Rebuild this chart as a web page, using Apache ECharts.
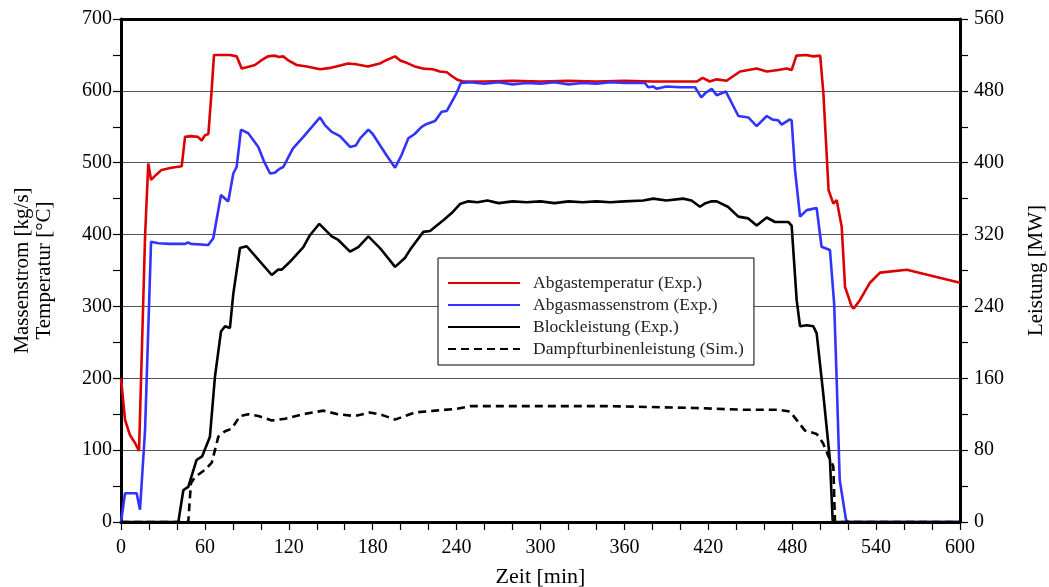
<!DOCTYPE html>
<html>
<head>
<meta charset="utf-8">
<script src="https://cdn.jsdelivr.net/npm/echarts@6/dist/echarts.min.js"></script>
<style>
  html, body { margin: 0; padding: 0; background: #fff; overflow: hidden; }
  #chart { width: 1049px; height: 587px; }
</style>
</head>
<body>
<div id="chart"></div>
<script>
// Abgastemperatur (Exp.) in °C over time in min
const tempTime = [0, 2.9, 6.4, 10, 12.9, 17.2, 19.5, 21.5, 25, 29, 36, 43.4, 45.8, 50, 55, 57.7, 60, 62.5, 64.8, 66.5, 72, 78, 82.7, 86.3, 90, 95.8, 100, 105, 110, 113, 116, 120, 125.6, 133, 142.3, 150, 154, 162.3, 168, 176.6, 185, 190, 196, 200, 204.3, 210, 216, 223, 228, 233, 237, 241, 245, 260, 280, 300, 320, 340, 360, 380, 400, 411.7, 416, 421, 426, 433, 442.7, 454.6, 461.8, 470, 476, 479.6, 483, 490, 495, 500, 502.3, 506, 509.4, 511.8, 515.4, 517.8, 522.5, 524, 528.5, 535.6, 542.8, 562, 600];
const tempValues = [200, 142, 121, 110, 99, 397, 499, 476, 483, 490, 493, 495, 536, 537, 536, 531, 538, 540, 600, 650, 650, 650, 648, 631, 633, 636, 642, 648, 649, 647, 648, 642, 636, 634, 630, 632, 634, 638, 637, 634, 638, 643, 648, 642, 639, 634, 631, 630, 627, 626, 620, 615, 613, 613, 614, 613, 614, 613, 614, 613, 613, 613, 618, 613, 616, 614, 627, 631, 627, 629, 631, 629, 649, 650, 648, 649, 597, 462, 443, 448, 411, 327, 300, 297, 309, 333, 347, 351, 333];

// Abgasmassenstrom (Exp.) in kg/s
const flowTime = [0, 2.9, 11.2, 13.6, 17.2, 21.5, 26.7, 35, 45.8, 48, 50, 62.4, 66, 71.5, 76.7, 80.3, 82.7, 85.8, 91, 98.2, 102, 106.6, 110, 113, 116, 123, 130.4, 137, 142.3, 146, 150.7, 156.6, 163.8, 168, 171, 176.9, 180, 185, 190, 196, 200.7, 205.5, 210, 215, 218.6, 224.6, 229.3, 233, 240, 243, 250, 260, 270, 280, 290, 300, 310, 320, 330, 340, 350, 360, 370, 374.7, 377, 380.7, 383, 390, 400, 410.5, 415, 418, 422.4, 426, 432.6, 441.5, 448.6, 454.6, 461.8, 466, 470, 472.5, 478, 479.6, 482, 485.6, 490.4, 497.5, 501, 507, 510, 511.8, 514, 518.5, 520, 600];
const flowValues = [0, 40, 40, 17, 128, 390, 388, 387, 387, 389, 387, 385.5, 395, 455, 446, 485, 494, 546, 541, 522, 503, 485, 486, 491, 494, 520, 536, 551, 563, 552, 543, 537, 522, 524, 534, 546, 540, 525, 510, 493, 511, 534, 540, 550, 554, 558, 571, 572, 597, 611, 612, 610, 612, 609, 611, 610, 612, 609, 611, 610, 612, 611, 611, 611, 605, 606, 603, 606, 605, 605, 591, 597, 603, 594, 599, 565, 563, 551, 565, 560, 559, 553, 560, 559, 490, 425, 434, 437, 383, 378.5, 304, 198, 58, 3, 0, 0];

// Blockleistung (Exp.) in MW
const blockTime = [0, 41, 44.6, 48.1, 54, 58, 63.6, 67.2, 71.5, 74.4, 77.9, 80.3, 85.1, 89.9, 98.2, 107.8, 112.5, 115, 121, 130.4, 135, 141.8, 150.7, 155.4, 163.8, 169.7, 176.9, 185.2, 196, 203, 206.7, 216.2, 221, 230.5, 236.5, 242.4, 248.4, 255, 262, 270, 280, 290, 300, 310, 320, 330, 340, 350, 360, 373.5, 380.7, 390, 402, 408, 414, 418, 422.4, 426, 434, 441.5, 448.6, 454.6, 461.8, 467.7, 477.2, 479.6, 483.2, 485.6, 490.4, 495.1, 497.5, 502.2, 507, 509, 600];
const blockValues = [0, 0, 35.6, 39, 69, 73, 95, 162, 212, 218, 216, 254, 305, 307, 292, 275, 281, 281, 290, 306, 319, 332, 318, 314, 301, 306, 318, 305, 284, 294, 303, 323, 324, 336, 344, 354, 357, 356, 358, 355, 357, 356, 357, 355, 357, 356, 357, 356, 357, 358, 360, 358, 360, 358, 351, 355, 357, 357, 351, 340, 338, 330, 339, 334, 334, 330, 247, 218, 219, 218, 210, 143, 69, 0, 0];

// Dampfturbinenleistung (Sim.) in MW
const turbineTime = [0, 48.1, 50, 52.9, 60, 64.9, 69.6, 74.4, 79.2, 85.1, 91, 98.2, 107.8, 117.3, 130, 144.7, 155, 167.3, 178, 187, 196, 210, 225, 240, 250, 300, 350, 378, 410, 444, 470, 478.4, 483, 489, 497.5, 502, 506, 509.4, 510.6, 600];
const turbineValues = [0, 0, 43, 50, 58, 66, 95, 101, 104, 118, 120, 118, 113, 115, 120, 124, 120, 118, 122, 119, 114, 122, 124, 126, 129, 129, 129, 128, 127, 125, 125, 123, 114, 102, 98, 88, 73, 62, 0, 0];

const seriesNames = ['Abgastemperatur (Exp.)', 'Abgasmassenstrom (Exp.)', 'Blockleistung (Exp.)', 'Dampfturbinenleistung (Sim.)'];
const xTicks = { min: 0, max: 600, step: 60 };
const leftTicks = { min: 0, max: 700, step: 100 };
const rightTicks = { min: 0, max: 560, step: 80 };

const FONT = '"Liberation Serif", "DejaVu Serif", serif';

function zip(ts, vs) {
  return ts.map((t, i) => [t, vs[i]]);
}

const chart = echarts.init(document.getElementById('chart'), null, { renderer: 'canvas' });

const tickLine = { color: '#000', width: 1.2 };
const labelStyle = { fontFamily: FONT, fontSize: 20, color: '#000' };

function lineSeries(name, data, color, axis, type) {
  return {
    name: name,
    type: 'line',
    yAxisIndex: axis,
    data: data,
    showSymbol: false,
    symbol: 'none',
    smooth: false,
    lineStyle: { color: color, width: 2.6, type: type || 'solid' },
    itemStyle: { color: color },
    emphasis: { disabled: true }
  };
}

chart.setOption({
  animation: false,
  backgroundColor: '#fff',
  grid: { left: 121, right: 89, top: 19, bottom: 65, containLabel: false, outerBoundsMode: 'none' },
  legend: {
    orient: 'vertical',
    left: 438,
    top: 258,
    data: seriesNames,
    itemWidth: 72,
    itemHeight: 14,
    itemGap: 4,
    padding: [16, 10, 7, 9],
    backgroundColor: '#fff',
    borderColor: '#000',
    borderWidth: 1,
    borderRadius: 0,
    itemStyle: { opacity: 0, borderWidth: 0 },
    textStyle: { fontFamily: FONT, fontSize: 17.5, color: '#222', lineHeight: 18, padding: [0, 0, 0, 8] },
    selectedMode: false
  },
  xAxis: [
    {
      type: 'value',
      min: xTicks.min,
      max: xTicks.max,
      interval: xTicks.step,
      name: 'Zeit [min]',
      nameLocation: 'middle',
      nameGap: 44,
      nameTextStyle: { fontFamily: FONT, fontSize: 22, color: '#000' },
      axisLine: { onZero: false, lineStyle: { color: '#000', width: 3 } },
      axisTick: { show: true, length: 8, inside: false, lineStyle: tickLine },
      minorTick: { show: true, splitNumber: 3, length: 8, lineStyle: tickLine },
      axisLabel: Object.assign({ margin: 16 }, labelStyle),
      splitLine: { show: false }
    },
    {
      type: 'value',
      position: 'top',
      min: xTicks.min,
      max: xTicks.max,
      axisLine: { onZero: false, lineStyle: { color: '#000', width: 3 } },
      axisTick: { show: false },
      axisLabel: { show: false },
      splitLine: { show: false }
    }
  ],
  yAxis: [
    {
      type: 'value',
      position: 'left',
      min: leftTicks.min,
      max: leftTicks.max,
      interval: leftTicks.step,
      name: 'Massenstrom [kg/s]\nTemperatur [°C]',
      nameLocation: 'middle',
      nameRotate: 90,
      nameGap: 66,
      nameTextStyle: { fontFamily: FONT, fontSize: 21, color: '#000', lineHeight: 22 },
      axisLine: { show: true, onZero: false, lineStyle: { color: '#000', width: 3 } },
      axisTick: { show: true, length: 8, inside: false, lineStyle: tickLine },
      minorTick: { show: true, splitNumber: 2, length: 8, lineStyle: tickLine },
      axisLabel: Object.assign({ margin: 9 }, labelStyle),
      splitLine: { show: true, lineStyle: { color: '#555', width: 1.2 } }
    },
    {
      type: 'value',
      position: 'right',
      min: rightTicks.min,
      max: rightTicks.max,
      interval: rightTicks.step,
      name: 'Leistung [MW]',
      nameLocation: 'middle',
      nameRotate: 90,
      nameGap: 66,
      nameTextStyle: { fontFamily: FONT, fontSize: 21, color: '#000' },
      axisLine: { show: true, onZero: false, lineStyle: { color: '#000', width: 3 } },
      axisTick: { show: true, length: 8, inside: false, lineStyle: tickLine },
      minorTick: { show: true, splitNumber: 2, length: 8, lineStyle: tickLine },
      axisLabel: Object.assign({ margin: 14 }, labelStyle),
      splitLine: { show: false }
    }
  ],
  series: [
    lineSeries(seriesNames[0], zip(tempTime, tempValues), '#dd0000', 0),
    lineSeries(seriesNames[1], zip(flowTime, flowValues), '#3333ff', 0),
    lineSeries(seriesNames[2], zip(blockTime, blockValues), '#000000', 1),
    lineSeries(seriesNames[3], zip(turbineTime, turbineValues), '#000000', 1, [8, 5])
  ]
});
</script>
</body>
</html>
